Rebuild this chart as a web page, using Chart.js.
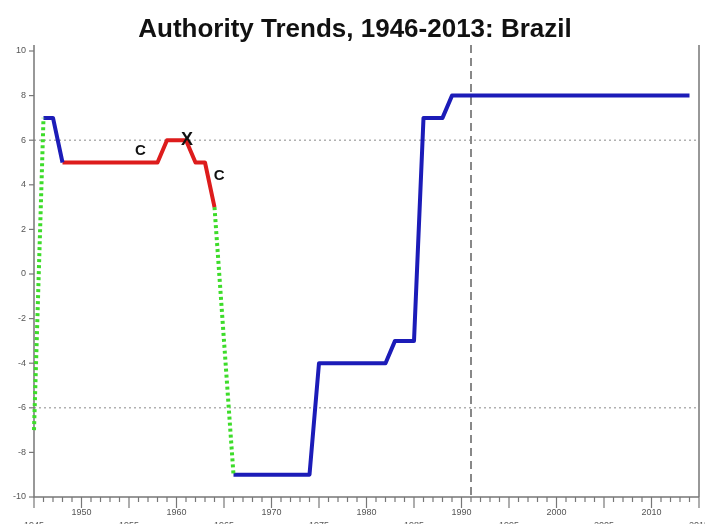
<!DOCTYPE html>
<html>
<head>
<meta charset="utf-8">
<script src="https://cdn.jsdelivr.net/npm/chart.js@4.4.1/dist/chart.umd.min.js"></script>
<style>
  body { margin: 0; background: #fff; }
  #wrap { width: 705px; height: 524px; }
</style>
</head>
<body>
<div id="wrap"><canvas id="chart" width="705" height="524"></canvas></div>
<script>
// 📋 Chart text + ticks
const chartTitle = 'Authority Trends, 1946-2013: Brazil';
const yTicks = [-10, -8, -6, -4, -2, 0, 2, 4, 6, 8, 10];
const xLabelYears = [1945, 1950, 1955, 1960, 1965, 1970, 1975, 1980, 1985, 1990, 1995, 2000, 2005, 2010, 2015];
const gridValues = [6, -6];
const refYear = 1991;

// 📦 Polity segments (year, score)
const transYearsA = [1945, 1946];
const transValuesA = [-7, 7];
const blueYearsA = [1946, 1947, 1948];
const blueValuesA = [7, 7, 5];
const redYears = [1948, 1958, 1959, 1961, 1962, 1963, 1964];
const redValues = [5, 5, 6, 6, 5, 5, 3];
const transYearsB = [1964, 1966];
const transValuesB = [3, -9];
const blueYearsB = [1966, 1974, 1975, 1982, 1983, 1985, 1986, 1988, 1989, 2014];
const blueValuesB = [-9, -9, -4, -4, -3, -3, 7, 7, 8, 8];

// ✏️ Event marks
const markTexts = ['C', 'X', 'C'];
const markYears = [1956.2, 1961.1, 1964.5];
const markValues = [5.5, 6, 4.4];

const BLUE = '#1c1cb8';
const RED = '#dd1c1c';
const GREEN = '#3ddc2a';

function toPoints(xs, ys) {
  return xs.map((x, i) => ({ x: x, y: ys[i] }));
}

function segment(xs, ys, color, dotted) {
  return {
    data: toPoints(xs, ys),
    borderColor: color,
    borderWidth: 4,
    borderDash: dotted ? [3, 3] : [],
    borderJoinStyle: 'round',
    pointRadius: 0,
    tension: 0,
    clip: false
  };
}

// 🧭 Axes, grid, title and marks drawn on the library's scales
const decor = {
  id: 'decor',
  beforeDatasetsDraw(chart) {
    const { ctx, chartArea: a, scales: { x, y } } = chart;
    ctx.save();

    // dotted grid
    ctx.strokeStyle = '#b0b0b0';
    ctx.lineWidth = 1.5;
    ctx.setLineDash([2, 3]);
    gridValues.forEach(v => {
      const py = y.getPixelForValue(v);
      ctx.beginPath();
      ctx.moveTo(a.left, py);
      ctx.lineTo(a.right, py);
      ctx.stroke();
    });

    // dashed reference year
    const rx = x.getPixelForValue(refYear);
    ctx.strokeStyle = '#888';
    ctx.lineWidth = 2;
    ctx.setLineDash([8, 5]);
    ctx.beginPath();
    ctx.moveTo(rx, a.top - 6);
    ctx.lineTo(rx, a.bottom);
    ctx.stroke();
    ctx.setLineDash([]);

    // axis lines + right frame
    ctx.strokeStyle = '#777';
    ctx.lineWidth = 1.5;
    ctx.beginPath();
    ctx.moveTo(a.left, a.top - 6);
    ctx.lineTo(a.left, a.bottom);
    ctx.lineTo(a.right, a.bottom);
    ctx.moveTo(a.right, a.top - 6);
    ctx.lineTo(a.right, a.bottom);
    ctx.stroke();

    // y ticks + labels
    ctx.fillStyle = '#555';
    ctx.font = '9px "Liberation Sans", Arial, sans-serif';
    ctx.textAlign = 'right';
    ctx.textBaseline = 'middle';
    ctx.lineWidth = 1.2;
    yTicks.forEach(v => {
      const py = y.getPixelForValue(v);
      ctx.beginPath();
      ctx.moveTo(a.left - 5, py);
      ctx.lineTo(a.left, py);
      ctx.stroke();
      ctx.fillText(String(v), a.left - 8, py);
    });

    // x ticks: every year minor, every 5 major
    for (let yr = x.min; yr <= x.max; yr++) {
      const px = x.getPixelForValue(yr);
      const major = yr % 5 === 0;
      ctx.beginPath();
      ctx.moveTo(px, a.bottom);
      ctx.lineTo(px, a.bottom + (major ? 11 : 5));
      ctx.stroke();
    }
    ctx.textAlign = 'center';
    xLabelYears.forEach(yr => {
      const px = x.getPixelForValue(yr);
      const low = yr % 10 !== 0;
      ctx.fillText(String(yr), px, a.bottom + (low ? 29 : 16));
    });

    ctx.restore();
  },
  afterDatasetsDraw(chart) {
    const { ctx, scales: { x, y } } = chart;
    ctx.save();
    ctx.fillStyle = '#111';
    ctx.textAlign = 'center';
    ctx.textBaseline = 'middle';
    markTexts.forEach((t, i) => {
      ctx.font = (t === 'X' ? 'bold 18px' : 'bold 15px') + ' "Liberation Sans", Arial, sans-serif';
      ctx.fillText(t, x.getPixelForValue(markYears[i]), y.getPixelForValue(markValues[i]));
    });

    // title
    ctx.font = 'bold 26px "Liberation Sans", Arial, sans-serif';
    ctx.textBaseline = 'alphabetic';
    ctx.fillText(chartTitle, 355, 37);
    ctx.restore();
  }
};

new Chart(document.getElementById('chart'), {
  type: 'line',
  data: {
    datasets: [
      segment(transYearsA, transValuesA, GREEN, true),
      segment(blueYearsA, blueValuesA, BLUE, false),
      segment(redYears, redValues, RED, false),
      segment(transYearsB, transValuesB, GREEN, true),
      segment(blueYearsB, blueValuesB, BLUE, false)
    ]
  },
  options: {
    responsive: false,
    animation: false,
    layout: { padding: { left: 34, right: 6, top: 51, bottom: 27 } },
    plugins: {
      legend: { display: false },
      tooltip: { enabled: false },
      title: { display: false }
    },
    scales: {
      x: { type: 'linear', min: 1945, max: 2015, display: false },
      y: { min: -10, max: 10, display: false }
    }
  },
  plugins: [decor]
});
</script>
</body>
</html>
